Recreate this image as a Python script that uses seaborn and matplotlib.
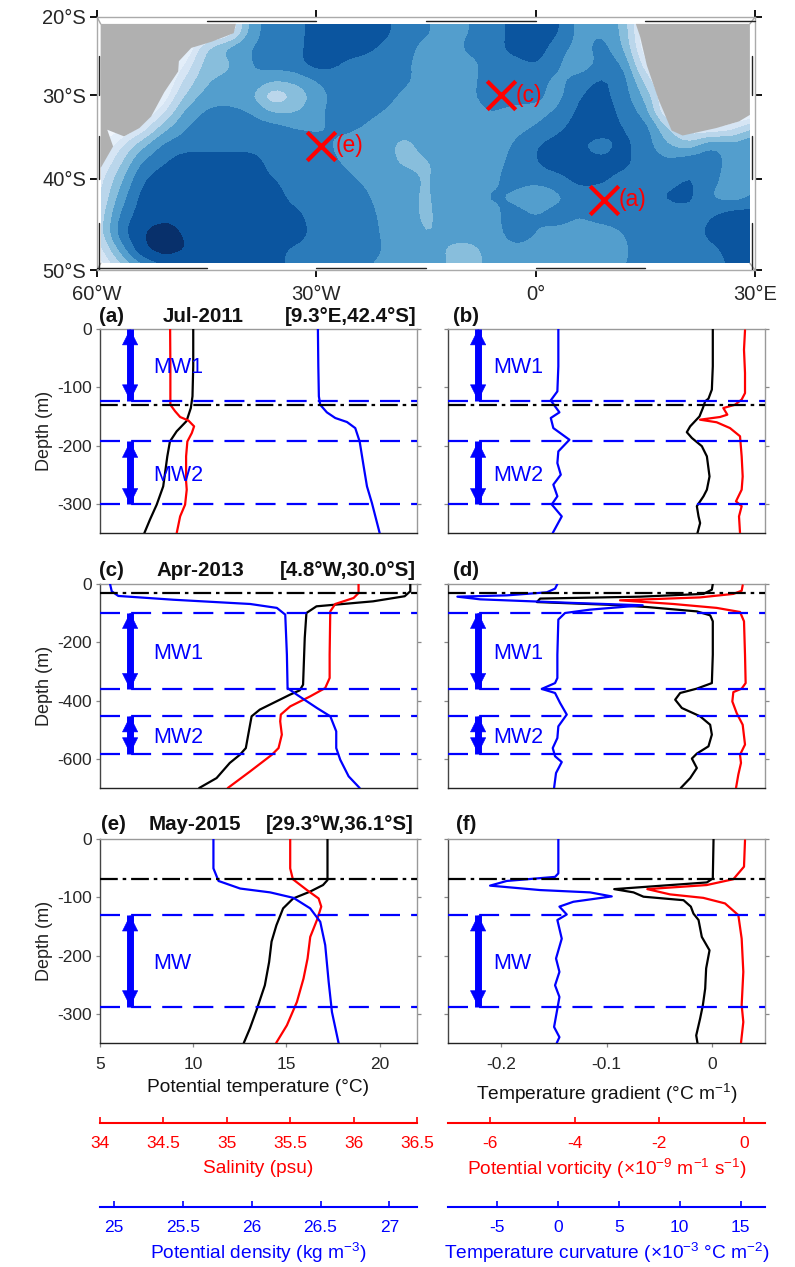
import numpy as np
import matplotlib
matplotlib.use("Agg")
import matplotlib.pyplot as plt
from matplotlib.patches import Rectangle
import seaborn as sns

# ---- map data ----
map_lons = list(range(-60, 31, 3))
map_lats = list(range(-20, -51, -2))
map_field = [
    [0,0,0,0,0,0,0.3,4.5,5.5,5.5,6.5,6.5,6.5,6.4,5.5,5.0,4.5,5.0,5.5,6.3,6.5,6.2,4.5,5.0,3.6,0,0,0,0,0,0],
    [0,0,0,0,0,0,0.5,4.5,5.5,5.5,6.5,6.5,6.5,6.3,5.5,5.2,4.5,5.0,5.5,6.3,6.5,6.2,4.5,5.0,3.8,0,0,0,0,0,0],
    [0,0,0,0,0,3.0,4.5,5.0,5.5,5.6,6.5,6.5,6.5,5.8,5.5,4.5,4.5,5.3,5.5,6.4,6.5,5.5,4.5,5.5,4.0,0.3,0,0,0,0,0],
    [0,0,0,0,1.0,3.5,3.7,5.0,5.5,5.6,6.6,6.0,5.5,5.5,5.2,4.5,4.5,4.6,5.5,5.6,6.1,5.2,3.8,5.5,5.0,1.0,0,0,0,0,0],
    [0,0,0,0,2.0,3.9,4.2,5.0,4.2,4.3,5.0,5.8,5.7,5.5,5.3,4.5,4.2,4.7,5.5,5.5,5.5,4.6,5.5,6.2,5.5,2.5,0,0,0,0,0],
    [0,0,0,0.3,3.0,4.4,4.7,4.2,1.8,3.0,4.4,5.4,5.5,5.4,4.8,4.0,4.5,4.8,5.5,5.5,5.3,4.5,6.0,6.3,5.5,3.7,0.5,0,0,0,0],
    [0,0,0,1.5,4.2,5.2,5.2,5.0,3.8,3.8,4.7,5.5,5.3,5.0,4.5,3.9,4.5,4.6,5.0,4.6,4.6,5.0,6.3,6.5,5.7,4.5,0.5,0,0,0,0],
    [0,0,1.0,3.5,5.0,5.5,5.5,5.5,5.5,5.0,4.8,5.2,5.0,4.6,4.5,4.5,4.5,4.8,5.0,4.6,5.0,5.8,6.5,6.5,6.0,5.5,3.0,1.0,0.7,1.5,3.0],
    [0,1.5,3.5,5.2,5.5,5.5,5.5,5.5,5.5,5.5,5.4,4.8,4.6,4.5,3.5,4.5,4.5,4.5,4.5,5.0,6.0,6.4,6.1,5.5,6.3,5.5,4.0,3.2,5.0,4.4,5.2],
    [0.5,2.5,5.0,5.8,6.6,6.6,6.6,6.6,5.5,5.5,5.4,5.0,4.5,4.5,3.7,3.8,4.5,4.5,4.5,5.3,6.0,6.5,6.3,6.2,6.3,5.5,5.2,5.8,5.8,4.3,5.2],
    [1.2,3.5,5.8,6.6,6.7,6.7,6.7,6.6,6.0,5.5,5.5,5.4,4.9,4.5,4.5,3.8,4.5,4.5,4.7,5.5,5.5,5.7,6.4,6.2,5.7,5.6,5.5,6.1,5.6,3.9,5.2],
    [1.5,4.2,6.3,6.7,6.8,6.8,6.8,6.7,6.6,5.5,5.5,5.5,5.3,4.6,4.3,3.8,4.5,4.6,5.2,4.8,3.8,4.7,5.5,5.5,5.4,5.5,6.2,6.4,4.8,4.3,5.0],
    [1.8,5.0,6.5,6.8,6.8,6.8,6.8,6.8,6.7,6.3,5.5,5.5,5.5,4.8,4.5,3.7,4.5,4.5,4.7,5.4,5.0,5.5,5.0,5.5,5.5,5.5,5.5,5.5,5.9,6.5,6.5],
    [2.0,5.5,7.0,7.3,6.9,6.8,6.8,6.8,6.7,6.6,5.6,5.5,5.5,4.9,4.5,3.9,4.2,4.5,4.6,5.4,5.0,4.7,4.6,4.5,5.0,5.5,5.5,5.5,6.3,6.6,6.6],
    [1.0,4.0,6.8,7.5,7.0,6.8,6.7,6.6,6.3,5.7,5.5,5.5,5.5,5.0,4.5,4.4,3.9,3.5,4.4,4.8,4.7,4.5,4.5,3.8,4.8,5.5,5.5,5.5,5.7,6.3,6.4],
    [0.2,2.0,4.0,5.5,6.0,6.5,6.5,6.5,6.3,5.8,5.6,5.5,5.2,4.6,4.5,4.5,4.0,3.3,4.5,4.6,4.5,4.5,4.5,4.2,5.0,5.5,5.5,5.5,5.5,6.2,5.7],
]
map_levels = [-1, 0.5, 1.25, 2, 3, 4, 5, 6, 7, 9]
map_colors = ["#f0f6fd", "#e3eef9", "#d6e5f4", "#bad6eb", "#88bedc", "#539ecd", "#2b7bba", "#0b559f", "#08306b"]

sa_lon = [-41.0, -41.3, -44.3, -47.1, -48.8, -48.9, -50.8, -52.6, -54.2, -56.3, -58.6, -57.8, -59.4, -59.5, -59.5]
sa_lat = [-20.9, -22.1, -23.2, -24.0, -25.7, -27.0, -29.6, -32.6, -34.0, -35.0, -34.2, -36.2, -38.6, -38.7, -20.9]
af_lon = [13.7, 14.3, 15.2, 16.8, 18.6, 20.1, 24.7, 27.8, 29.3, 29.3]
af_lat = [-20.9, -22.6, -26.2, -30.5, -34.3, -34.9, -34.0, -33.2, -32.4, -20.9]

site_lon = [9.3, -4.8, -29.3]
site_lat = [-42.4, -30.0, -36.1]
site_name = ["(a)", "(c)", "(e)"]

# ---- profiles: panel (a) ----
a_t_z = [0, 64, 115.5, 135.6, 158, 175.6, 193, 218.5, 270, 301.4, 327, 350]
a_t = [10.0, 10.0, 9.96, 9.87, 9.64, 9.11, 8.75, 8.61, 8.39, 8.04, 7.68, 7.38]
a_s_z = [0, 64, 130, 141, 151, 157, 167, 178.5, 193, 218.5, 261, 275.7, 301.4, 321.5, 350]
a_s = [34.553, 34.555, 34.555, 34.592, 34.632, 34.697, 34.742, 34.724, 34.689, 34.679, 34.679, 34.684, 34.671, 34.632, 34.605]
a_r_z = [0, 64, 115.5, 130, 143, 152.7, 159.6, 170, 193, 235.7, 270, 298.6, 350]
a_r = [26.481, 26.484, 26.488, 26.498, 26.546, 26.607, 26.692, 26.752, 26.784, 26.813, 26.837, 26.873, 26.929]

# panel (b)
b_g_z = [0, 64, 104, 119.5, 124, 135.6, 150, 167, 177, 187, 201, 218.5, 253, 275.7, 287, 304, 321.5, 333, 350]
b_g = [.0006, .0006, -.0003, -.0035, -.0066, -.0088, -.012, -.0208, -.024, -.0192, -.0098, -.005, -.0025, -.005, -.0082, -.0145, -.0129, -.0114, -.0139]
b_p_z = [2.3, 35.5, 75.5, 110, 121, 130, 135.6, 147, 151, 155.6, 160, 170, 184, 218.5, 253, 275.7, 295.7, 304, 321.5, 350]
b_p = [.027, .003, .027, .027, -.052, -.21, -.486, -.391, -.565, -1.038, -.644, -.328, -.091, -.052, -.028, -.052, -.186, -.052, -.115, -.091]
b_c_z = [0, 64, 107, 122.4, 132.7, 143, 152.7, 170, 190, 210, 230, 250, 267, 287, 301, 321.5, 350]
b_c = [.05, .05, -.03, -.57, -.22, .14, -.57, -.36, .96, .05, -.03, .25, -.36, -.03, -.49, .33, -.41]

# panel (c)
c_t_z = [0, 25, 42, 59.5, 76.6, 99.5, 185, 345.5, 365, 380, 431, 454, 517, 563, 586, 614, 666, 700]
c_t = [21.64, 21.64, 21.34, 19.64, 16.61, 16.07, 15.98, 15.89, 15.71, 15.18, 13.57, 13.13, 12.95, 12.82, 12.5, 11.96, 11.25, 10.32]
c_s_z = [0, 31, 48, 68.6, 94, 242.5, 322.6, 357, 385.5, 420, 448, 471, 517, 563, 586, 643, 700]
c_s = [36.039, 36.039, 36.0, 35.855, 35.816, 35.811, 35.811, 35.776, 35.658, 35.5, 35.426, 35.421, 35.434, 35.408, 35.355, 35.184, 35.008]
c_r_z = [0, 25, 41, 54, 68.6, 82, 105, 242.5, 357, 380, 425.5, 454, 505.6, 563, 603, 660, 700]
c_r = [24.973, 24.985, 25.033, 25.433, 25.99, 26.183, 26.244, 26.256, 26.261, 26.329, 26.474, 26.571, 26.614, 26.614, 26.643, 26.704, 26.784]

# panel (d)
d_g_z = [0, 19.4, 34, 43.5, 50, 62, 71, 79, 94, 107.5, 128, 242.5, 340, 359, 374, 397, 425.5, 454, 483, 517, 557, 582, 599, 631.5, 666, 700]
d_g = [.0006, -.0003, -.0082, -.0681, -.1628, -.1659, -.0997, -.0618, -.0145, -.0019, .0006, .0006, -.0003, -.0145, -.0303, -.035, -.0287, -.0114, -.0019, -.0003, -.0035, -.0145, -.0192, -.0145, -.0208, -.0297]
d_p_z = [4.6, 23, 34, 46, 56, 68.6, 82, 96, 128, 242.5, 340, 359, 371, 403, 443, 483, 551, 586, 614, 654, 700]
d_p = [-.028, -.052, -.249, -1.038, -2.93, -1.669, -.644, -.091, .003, .027, .042, -.052, -.249, -.273, -.17, -.028, .027, -.091, -.068, -.131, -.186]
d_c_z = [0, 16, 28.6, 39, 43.5, 52.6, 65, 73, 88, 99.5, 122, 242.5, 322.6, 340, 360, 374, 408, 448, 488.5, 528.5, 563, 591, 611, 648.6, 700]
d_c = [-.03, -.22, -.9, -4.18, -8.23, -6.37, 1.28, 6.97, 2.65, .6, .05, -.03, -.03, -.22, -1.31, -.22, .19, .74, .05, -.03, -.41, -.22, .33, -.14, -.3]

# panel (e)
e_t_z = [0, 70.5, 79, 90.5, 102, 119, 148, 176, 211, 251, 294, 325, 350]
e_t = [17.2, 17.2, 16.96, 16.25, 15.36, 14.82, 14.46, 14.2, 14.07, 13.84, 13.39, 13.04, 12.71]
e_s_z = [0, 50.4, 69, 87.6, 102, 116, 139, 168, 205, 239.4, 279.5, 319.6, 350]
e_s = [35.5, 35.5, 35.521, 35.632, 35.724, 35.745, 35.711, 35.658, 35.637, 35.605, 35.553, 35.474, 35.389]
e_r_z = [0, 50.4, 72, 85, 91.6, 101, 119, 142, 182, 245, 297, 350]
e_r = [25.723, 25.723, 25.76, 25.917, 26.135, 26.304, 26.425, 26.498, 26.534, 26.559, 26.583, 26.631]

# panel (f)
f_g_z = [0, 67.6, 74.5, 86, 91.6, 99, 105, 116, 128, 139, 168, 191, 222, 256.6, 285, 308, 337, 350]
f_g = [.0013, .0006, -.005, -.0927, -.0744, -.065, -.0271, -.0202, -.0177, -.0129, -.0098, -.0025, -.0057, -.0066, -.0088, -.0114, -.0151, -.0139]
f_p_z = [2.3, 47.5, 69, 79, 86, 95, 101, 110.5, 130.6, 171, 228, 285, 314, 350]
f_p = [.027, .003, -.249, -.88, -2.284, -1.748, -.959, -.446, -.131, -.052, -.013, -.052, -.013, -.068]
f_c_z = [0, 59, 65, 72, 80, 87.6, 91.6, 98.5, 107.7, 116, 129.5, 139, 171, 205, 228, 251, 271, 297, 322.5, 340, 350]
f_c = [.05, .05, -.22, -4.18, -5.55, -1.45, 2.65, 4.43, 1.28, .14, .74, -.03, .33, -.14, .14, -.22, .14, -.08, -.3, .14, -.08]

# layer depths
a_layers = [123, 193, 301]
a_mld = 131
c_layers = [98, 361.5, 453, 582]
c_mld = 32
e_layers = [130.6, 287.5]
e_mld = 69

# ---- style ----
sns.set_style("white")
plt.rcParams["font.family"] = ["Liberation Sans", "DejaVu Sans"]
plt.rcParams["axes.unicode_minus"] = False
plt.rcParams["mathtext.fontset"] = "custom"
plt.rcParams["mathtext.rm"] = "Liberation Sans"
plt.rcParams["mathtext.default"] = "regular"

W, H = 795, 1267
RED, BLUE = "#ff0000", "#0000ff"
FS = 12.5
LS = 13.8

fig = plt.figure(figsize=(W / 100, H / 100), dpi=100)


def box(left, top, right, bottom):
    return [left / W, 1 - bottom / H, (right - left) / W, (bottom - top) / H]


def miller(lat):
    return 1.25 * np.log(np.tan(np.pi / 4 + 0.4 * np.radians(np.asarray(lat, dtype=float))))


def refine(lons, lats, field, n=4):
    # finer grid + small blur, only so the filled contours come out rounded
    lons = np.asarray(lons, dtype=float)
    y = miller(lats)[::-1]
    f = np.asarray(field, dtype=float)[::-1]
    fine_x = np.linspace(lons[0], lons[-1], (len(lons) - 1) * n + 1)
    fine_y = np.linspace(y[0], y[-1], (len(y) - 1) * n + 1)
    f = np.array([np.interp(fine_x, lons, row) for row in f])
    f = np.array([np.interp(fine_y, y, col) for col in f.T]).T
    kernel = np.array([1, 2, 3, 2, 1]) / 9
    f = np.pad(f, 2, mode="edge")
    f = np.apply_along_axis(lambda r: np.convolve(r, kernel, mode="valid"), 1, f)
    f = np.apply_along_axis(lambda c: np.convolve(c, kernel, mode="valid"), 0, f)
    return fine_x, fine_y, f


# ---- map ----
ax = fig.add_axes(box(97, 17, 755, 270))
ax.set_facecolor("white")
ax.set_xlim(-60, 30)
# southern latitudes: miller() is negative here, so the axis runs the right way
ax.set_ylim(miller(-50), miller(-20))
for s in ax.spines.values():
    s.set_color("#aaaaaa")
    s.set_linewidth(1)
clip = Rectangle((-59.5, miller(-49.3)), 88.8, miller(-20.9) - miller(-49.3), transform=ax.transData)
fx, fy, ff = refine(map_lons, map_lats, map_field)
cs = ax.contourf(fx, fy, ff, levels=map_levels, colors=map_colors)
cs.set_clip_path(clip)
ax.fill(sa_lon, miller(sa_lat), color="#b0b0b0", lw=0, zorder=3)
ax.fill(af_lon, miller(af_lat), color="#b0b0b0", lw=0, zorder=3)

# fancy frame
top_y, bot_y = miller(-20.55), miller(-49.75)
for lo in range(-60, 30, 15):
    on_top = (lo + 60) % 30 == 15
    ax.plot([lo, lo + 15], [top_y if on_top else bot_y] * 2, color="#222222", lw=1, clip_on=False, zorder=4)
for la in [-25, -35, -45]:
    ax.plot([-59.75, -59.75], miller([la, la - 5]), color="#222222", lw=1, zorder=4)
    ax.plot([29.65, 29.65], miller([la, la - 5]), color="#222222", lw=1, zorder=4)
for xc, xi in [(-60, -59.5), (30, 29.3)]:
    ax.plot([xc, xi], [miller(-20), miller(-20.9)], color="#aaaaaa", lw=1)
    ax.plot([xc, xi], [miller(-50), miller(-49.3)], color="#aaaaaa", lw=1)

ax.set_xticks([-60, -30, 0, 30])
ax.set_xticklabels(["60°W", "30°W", "0°", "30°E"], fontsize=14.5)
ax.set_yticks(miller([-50, -40, -30, -20]))
ax.set_yticklabels(["50°S", "40°S", "30°S", "20°S"], fontsize=14.5)
ax.tick_params(axis="both", which="both", direction="out", length=5, width=1.3, color="black",
               top=True, right=True, left=True, bottom=True, pad=3)
ax.tick_params(axis="x", pad=6)

sns.scatterplot(x=site_lon, y=miller(site_lat), marker="x", s=420, color=RED, linewidth=3, ax=ax, zorder=6, legend=False)
for lo, la, name in zip(site_lon, miller(site_lat), site_name):
    ax.text(lo + 2.0, la, name, color=RED, fontsize=16.5, va="center", ha="left", zorder=6)


# ---- profile panels ----
def draw_profile(host, x, z, xlim, color):
    tw = host.twiny()
    sns.lineplot(x=x, y=-np.array(z), sort=False, estimator=None, color=color, linewidth=1.6, ax=tw)
    tw.set_xlim(*xlim)
    tw.set_ylim(host.get_ylim())
    tw.axis("off")
    return tw


def draw_layers(host, layers, mld, arrows, names, name_x, arrow_x):
    host.axhline(-mld, color="black", lw=1.6, ls=(0, (8, 2.2, 1.6, 2.2)), zorder=5)
    for d in layers:
        host.axhline(-d, color=BLUE, lw=1.6, ls=(0, (9, 5)), zorder=5)
    trans = host.get_yaxis_transform()
    for (d0, d1), name in zip(arrows, names):
        host.plot([arrow_x, arrow_x], [-d0, -d1], color=BLUE, lw=5, solid_capstyle="butt", transform=trans, zorder=6)
        host.annotate("", xy=(arrow_x, -d0), xytext=(arrow_x, -d1), xycoords=trans, textcoords=trans,
                      arrowprops=dict(arrowstyle="<|-|>,head_width=0.55,head_length=1.1", color=BLUE, lw=0.4,
                                      shrinkA=0, shrinkB=0, mutation_scale=10), zorder=6)
        host.annotate(name, xy=(name_x, -(d0 + d1) / 2), xycoords=trans, xytext=(0, -2), textcoords="offset points",
                      color=BLUE, fontsize=15.5, va="center", ha="left", zorder=7)


def style_panel(host, ymax, yticks, left_labels, xticks=None, xlabels=None):
    host.set_ylim(-ymax, 0)
    host.set_yticks(yticks)
    host.set_xticks(xticks if xticks is not None else [])
    if xticks is not None:
        host.set_xticklabels(xlabels, fontsize=FS)
        host.tick_params(axis="x", top=True, bottom=True, direction="out", length=3, width=0.9, color="#888888", pad=7)
    host.tick_params(axis="y", left=True, right=True, direction="out", length=3, width=0.9, color="#888888",
                     labelleft=left_labels, labelsize=FS, pad=3)
    host.spines["top"].set_color("#999999")
    host.spines["right"].set_color("#999999")
    host.spines["left"].set_color("#444444")
    host.spines["bottom"].set_color("#222222")
    for s in host.spines.values():
        s.set_linewidth(1)
        s.set_visible(True)
    if left_labels:
        host.set_ylabel("Depth (m)", fontsize=13, labelpad=3, color="#222222")
    else:
        host.set_ylabel("")


T_LIM, S_LIM, R_LIM = (5, 22), (34, 36.5), (24.9, 27.2)
G_LIM, P_LIM, C_LIM = (-0.25, 0.05), (-7, 0.5), (-9, 17)

ax_a = fig.add_axes(box(100, 329, 417, 533))
ax_b = fig.add_axes(box(448, 329, 765, 533))
ax_c = fig.add_axes(box(100, 584, 417, 788))
ax_d = fig.add_axes(box(448, 584, 765, 788))
ax_e = fig.add_axes(box(100, 839, 417, 1043))
ax_f = fig.add_axes(box(448, 839, 765, 1043))

for host in (ax_a, ax_c, ax_e):
    host.set_xlim(*T_LIM)
for host in (ax_b, ax_d, ax_f):
    host.set_xlim(*G_LIM)

style_panel(ax_a, 350, [-300, -200, -100, 0], True)
style_panel(ax_b, 350, [-300, -200, -100, 0], False)
style_panel(ax_c, 700, [-600, -400, -200, 0], True)
style_panel(ax_d, 700, [-600, -400, -200, 0], False)
style_panel(ax_e, 350, [-300, -200, -100, 0], True, [5, 10, 15, 20], ["5", "10", "15", "20"])
style_panel(ax_f, 350, [-300, -200, -100, 0], False, [-0.2, -0.1, 0], ["-0.2", "-0.1", "0"])

draw_profile(ax_a, a_t, a_t_z, T_LIM, "black")
draw_profile(ax_a, a_s, a_s_z, S_LIM, RED)
draw_profile(ax_a, a_r, a_r_z, R_LIM, BLUE)
draw_profile(ax_b, b_g, b_g_z, G_LIM, "black")
draw_profile(ax_b, b_p, b_p_z, P_LIM, RED)
draw_profile(ax_b, b_c, b_c_z, C_LIM, BLUE)
draw_profile(ax_c, c_t, c_t_z, T_LIM, "black")
draw_profile(ax_c, c_s, c_s_z, S_LIM, RED)
draw_profile(ax_c, c_r, c_r_z, R_LIM, BLUE)
draw_profile(ax_d, d_g, d_g_z, G_LIM, "black")
draw_profile(ax_d, d_p, d_p_z, P_LIM, RED)
draw_profile(ax_d, d_c, d_c_z, C_LIM, BLUE)
draw_profile(ax_e, e_t, e_t_z, T_LIM, "black")
draw_profile(ax_e, e_s, e_s_z, S_LIM, RED)
draw_profile(ax_e, e_r, e_r_z, R_LIM, BLUE)
draw_profile(ax_f, f_g, f_g_z, G_LIM, "black")
draw_profile(ax_f, f_p, f_p_z, P_LIM, RED)
draw_profile(ax_f, f_c, f_c_z, C_LIM, BLUE)

# layer lines have to sit over the twin axes
a2 = [(a_layers[0], 0), (a_layers[1], a_layers[2])]
c2 = [(c_layers[0], c_layers[1]), (c_layers[2], c_layers[3])]
e2 = [(e_layers[0], e_layers[1])]
for host, layers, mld, arrows, names in [
    (ax_a, a_layers, a_mld, a2, ["MW1", "MW2"]), (ax_b, a_layers, a_mld, a2, ["MW1", "MW2"]),
    (ax_c, c_layers, c_mld, c2, ["MW1", "MW2"]), (ax_d, c_layers, c_mld, c2, ["MW1", "MW2"]),
    (ax_e, e_layers, e_mld, e2, ["MW"]), (ax_f, e_layers, e_mld, e2, ["MW"]),
]:
    over = host.figure.add_axes(host.get_position(), sharex=host, sharey=host, zorder=5)
    over.patch.set_alpha(0)
    over.axis("off")
    is_left = host in (ax_a, ax_c, ax_e)
    draw_layers(over, layers, mld, arrows, names, 0.167 if is_left else 0.142, 0.095)

# panel titles
TB = dict(fontsize=14.8, fontweight="bold", color="#111111", va="center")
fig.text(99 / W, 1 - 316 / H, "(a)", ha="left", **TB)
fig.text(203 / W, 1 - 316 / H, "Jul-2011", ha="center", **TB)
fig.text(416 / W, 1 - 316 / H, "[9.3°E,42.4°S]", ha="right", **TB)
fig.text(453 / W, 1 - 316 / H, "(b)", ha="left", **TB)
fig.text(99 / W, 1 - 570 / H, "(c)", ha="left", **TB)
fig.text(200 / W, 1 - 570 / H, "Apr-2013", ha="center", **TB)
fig.text(416 / W, 1 - 570 / H, "[4.8°W,30.0°S]", ha="right", **TB)
fig.text(453 / W, 1 - 570 / H, "(d)", ha="left", **TB)
fig.text(101 / W, 1 - 824 / H, "(e)", ha="left", **TB)
fig.text(195 / W, 1 - 824 / H, "May-2015", ha="center", **TB)
fig.text(414 / W, 1 - 824 / H, "[29.3°W,36.1°S]", ha="right", **TB)
fig.text(456 / W, 1 - 824 / H, "(f)", ha="left", **TB)

ax_e.set_xlabel("Potential temperature (°C)", fontsize=LS, labelpad=5, color="#111111")
ax_f.set_xlabel("Temperature gradient (°C m$^{-1}$)", fontsize=LS, labelpad=7, color="#111111")


# ---- stacked scale bars ----
def scale_bar(left, right, y, xlim, ticks, labels, color, title, pad):
    bar = fig.add_axes(box(left, y, right, y + 0.5))
    bar.set_xlim(*xlim)
    bar.set_yticks([])
    bar.set_facecolor("none")
    for name, s in bar.spines.items():
        s.set_visible(name == "bottom")
    bar.spines["bottom"].set_color(color)
    bar.spines["bottom"].set_linewidth(1.5)
    bar.set_xticks(ticks)
    bar.set_xticklabels(labels, fontsize=FS, color=color)
    bar.tick_params(axis="x", direction="in", length=4, width=1.2, color=color, bottom=True, pad=10)
    bar.set_xlabel(title, fontsize=LS, color=color, labelpad=pad)


scale_bar(100, 417, 1122, S_LIM, [34, 34.5, 35, 35.5, 36, 36.5], ["34", "34.5", "35", "35.5", "36", "36.5"], RED,
          "Salinity (psu)", 6)
scale_bar(448, 765, 1122, P_LIM, [-6, -4, -2, 0], ["-6", "-4", "-2", "0"], RED,
          r"Potential vorticity ($\times$10$^{-9}$ m$^{-1}$ s$^{-1}$)", 4)
scale_bar(100, 417, 1206, R_LIM, [25, 25.5, 26, 26.5, 27], ["25", "25.5", "26", "26.5", "27"], BLUE,
          "Potential density (kg m$^{-3}$)", 4)
scale_bar(448, 765, 1206, C_LIM, [-5, 0, 5, 10, 15], ["-5", "0", "5", "10", "15"], BLUE,
          r"Temperature curvature ($\times$10$^{-3}$ °C m$^{-2}$)", 4)

fig.savefig("out.png", dpi=100)
